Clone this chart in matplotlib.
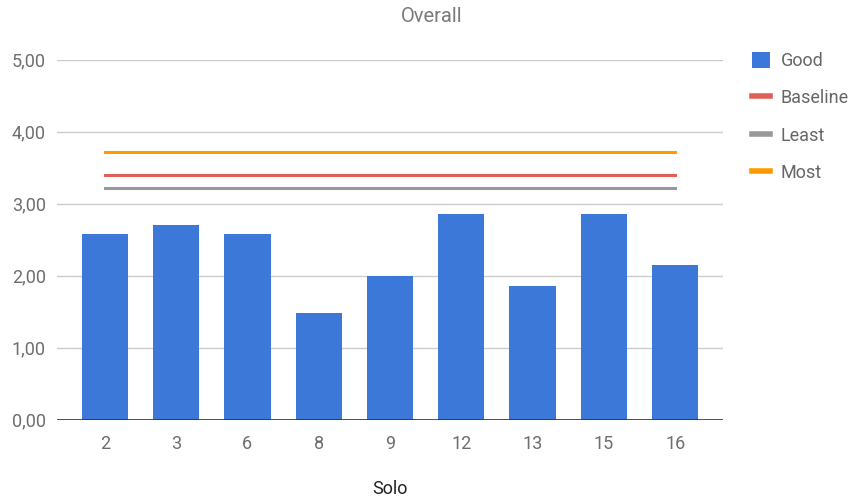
import matplotlib
matplotlib.use("Agg")
import matplotlib.pyplot as plt
from matplotlib.lines import Line2D
from matplotlib.patches import Patch
import numpy as np

categories = ["2", "3", "6", "8", "9", "12", "13", "15", "16"]
good = [2.57, 2.70, 2.57, 1.48, 2.00, 2.85, 1.86, 2.85, 2.15]
baseline = [3.40] * len(categories)
least = [3.22] * len(categories)
most = [3.72] * len(categories)

plt.rcParams["font.family"] = ["Roboto", "DejaVu Sans"]

W, H = 851, 499
fig = plt.figure(figsize=(W / 100, H / 100), dpi=100)
ax = fig.add_axes([57 / W, (H - 419.5) / H, (723 - 57) / W, (419.5 - 59.5) / H])

x = np.arange(len(categories))
c_good, c_base, c_least, c_most = "#3c78d8", "#e06055", "#999999", "#ff9900"

ax.bar(x, good, width=0.65, color=c_good, zorder=2)
ax.plot(x, most, color=c_most, lw=2.2, zorder=3)
ax.plot(x, baseline, color=c_base, lw=2.2, zorder=3)
ax.plot(x, least, color=c_least, lw=2.2, zorder=3)

ax.set_xlim(-0.67, 8.67)
ax.set_ylim(0, 5)
ax.set_yticks([0, 1, 2, 3, 4, 5])
ax.set_yticklabels(["0,00", "1,00", "2,00", "3,00", "4,00", "5,00"])
ax.set_xticks(x)
ax.set_xticklabels(categories)
ax.grid(axis="y", color="#cccccc", lw=1, zorder=0)
ax.axhline(0, color="#333333", lw=1.2, zorder=4)
for s in ax.spines.values():
    s.set_visible(False)
ax.tick_params(axis="both", length=0, labelsize=13, labelcolor="#6e6e6e")
ax.tick_params(axis="y", pad=8)
ax.tick_params(axis="x", pad=11)

fig.text(432 / W, 1 - 17 / H, "Overall", ha="center", va="center",
         fontsize=14.5, color="#7a7a7a")
fig.text(390 / W, 1 - 489 / H, "Solo", ha="center", va="center",
         fontsize=13, color="#222222")

handles = [
    Patch(facecolor=c_good, edgecolor="none"),
    Line2D([0], [0], color=c_base, lw=4),
    Line2D([0], [0], color=c_least, lw=4),
    Line2D([0], [0], color=c_most, lw=4),
]
labels = ["Good", "Baseline", "Least", "Most"]
fig.legend(handles, labels, loc="upper left", bbox_to_anchor=(752 / W, 1 - 52 / H),
           frameon=False, fontsize=13, labelcolor="#666666",
           handlelength=1.0, handleheight=1.0, handletextpad=0.6,
           labelspacing=1.05, borderaxespad=0, borderpad=0)

fig.savefig("out.png", dpi=100)
